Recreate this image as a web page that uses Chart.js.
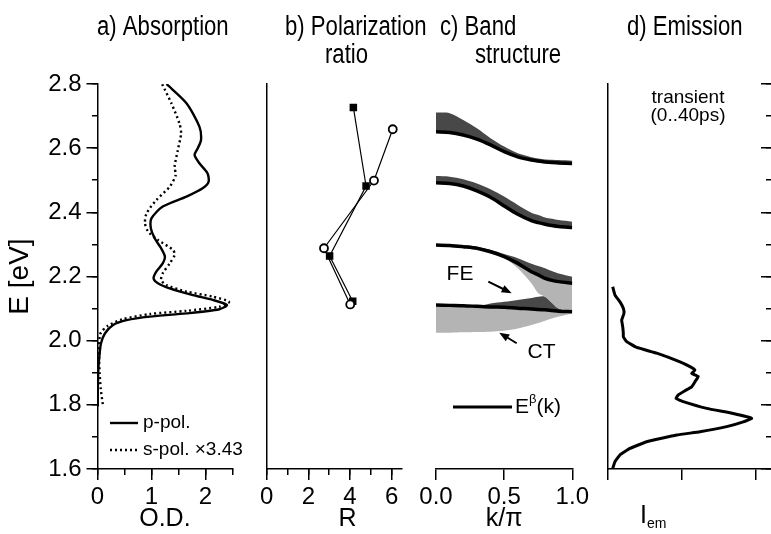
<!DOCTYPE html>
<html>
<head>
<meta charset="utf-8">
<script src="https://cdn.jsdelivr.net/npm/chart.js@4.4.1/dist/chart.umd.min.js"></script>
<style>
  html, body { margin: 0; padding: 0; background: #fff; }
  #fig { position: relative; width: 771px; height: 534px; overflow: hidden; }
  #fig canvas { position: absolute; left: 0; top: 0; }
</style>
</head>
<body>
<div id="fig">
  <canvas id="absorption" width="771" height="534"></canvas>
  <canvas id="ratio" width="771" height="534"></canvas>
  <canvas id="bands" width="771" height="534"></canvas>
  <canvas id="emission" width="771" height="534"></canvas>
</div>
<script>
// --- a) Absorption (O.D. vs E in eV) ---
const pPolOD = [1.28, 1.65, 1.89, 1.92, 1.86, 1.80, 1.89, 2.04, 2.06, 1.95, 1.65, 1.21, 1.00, 0.99, 1.06, 1.18, 1.25, 1.21, 1.09, 1.04,
                1.12, 1.34, 1.77, 2.14, 2.40, 2.26, 1.65, 0.97, 0.54, 0.29, 0.14, 0.065, 0.034, 0.015, 0.005, 0.005];
const pPolE  = [2.800, 2.740, 2.667, 2.625, 2.600, 2.579, 2.553, 2.522, 2.495, 2.475, 2.449, 2.418, 2.381, 2.350, 2.319, 2.288, 2.262, 2.241, 2.215, 2.194,
                2.179, 2.163, 2.142, 2.127, 2.111, 2.098, 2.085, 2.075, 2.064, 2.049, 2.023, 1.992, 1.950, 1.908, 1.836, 1.795];
const sPolOD = [1.20, 1.37, 1.52, 1.55, 1.49, 1.43, 1.45, 1.34, 1.09, 0.91, 0.88, 0.94, 1.12, 1.40, 1.43, 1.34, 1.21, 1.18, 1.28, 1.65,
                2.14, 2.44, 2.26, 1.65, 0.97, 0.45, 0.18, 0.05, 0.03, 0.04, 0.06, 0.10];
const sPolE  = [2.799, 2.740, 2.677, 2.646, 2.594, 2.542, 2.516, 2.480, 2.438, 2.397, 2.366, 2.340, 2.314, 2.283, 2.267, 2.241, 2.210, 2.189, 2.173, 2.153,
                2.137, 2.121, 2.106, 2.093, 2.083, 2.066, 2.045, 2.020, 1.950, 1.900, 1.850, 1.800];

// --- b) Polarization ratio ---
const squareR = [4.16, 4.77, 3.02, 4.13];
const squareE = [2.727, 2.482, 2.264, 2.123];
const circleR = [6.05, 5.15, 2.75, 4.01];
const circleE = [2.659, 2.499, 2.288, 2.113];

// --- c) Band structure (E vs k/pi) ---
const kGrid     = [0, 0.1, 0.2, 0.3, 0.4, 0.5, 0.6, 0.7, 0.75, 0.8, 0.85, 0.9, 1.0];
const band1Top  = [2.711, 2.709, 2.688, 2.662, 2.631, 2.605, 2.584, 2.572, 2.568, 2.565, 2.564, 2.563, 2.561];
const band1Edge = [2.651, 2.649, 2.641, 2.628, 2.610, 2.589, 2.573, 2.563, 2.560, 2.557, 2.555, 2.554, 2.552];
const band2Top  = [2.513, 2.511, 2.503, 2.490, 2.472, 2.449, 2.423, 2.399, 2.392, 2.384, 2.380, 2.376, 2.371];
const band2Edge = [2.492, 2.490, 2.482, 2.467, 2.447, 2.420, 2.394, 2.374, 2.368, 2.363, 2.359, 2.356, 2.353];
const band3Top  = [2.301, 2.300, 2.298, 2.293, 2.283, 2.270, 2.257, 2.240, 2.233, 2.226, 2.217, 2.209, 2.199];
const band3Edge = [2.298, 2.297, 2.293, 2.288, 2.277, 2.262, 2.241, 2.215, 2.205, 2.194, 2.188, 2.184, 2.179];
const feLow     = [2.298, 2.297, 2.293, 2.288, 2.274, 2.257, 2.226, 2.179, 2.148, 2.137, 2.118, 2.100, 2.090];
const band4Edge = [2.111, 2.110, 2.109, 2.107, 2.105, 2.104, 2.101, 2.099, 2.097, 2.096, 2.094, 2.092, 2.090];
const feTop     = [2.111, 2.110, 2.109, 2.107, 2.116, 2.121, 2.127, 2.133, 2.137, 2.137, 2.118, 2.100, 2.090];
const ctLow     = [2.025, 2.025, 2.026, 2.027, 2.028, 2.031, 2.038, 2.049, 2.055, 2.062, 2.069, 2.075, 2.085];

// --- d) Emission, transient (0..40ps) ---
const emI = [0.073, 0.104, 0.171, 0.216, 0.225, 0.194, 0.208, 0.216, 0.216, 0.261, 0.396, 0.666, 0.980, 1.115, 1.182, 1.137, 1.226, 1.182,
             1.137, 1.047, 0.957, 0.926, 1.024, 1.340, 1.698, 1.946, 1.833, 1.609, 1.249, 0.935, 0.531, 0.306, 0.171, 0.104, 0.073];
const emE = [2.168, 2.142, 2.121, 2.101, 2.085, 2.064, 2.043, 2.023, 2.012, 1.997, 1.979, 1.961, 1.934, 1.919, 1.908, 1.898, 1.888, 1.872,
             1.856, 1.844, 1.831, 1.820, 1.810, 1.789, 1.773, 1.758, 1.747, 1.732, 1.716, 1.706, 1.685, 1.664, 1.644, 1.623, 1.602];

// --- labels ---
const panelTitles = [['a) Absorption'], ['b) Polarization', 'ratio'], ['c) Band', 'structure'], ['d) Emission']];
const legendLabels = ['p-pol.', 's-pol. \u00d73.43'];
const E_MIN = 1.6, E_MAX = 2.8;

// --- common setup ---
const FONT = '"Liberation Sans", Arial, Helvetica, sans-serif';
Chart.defaults.font.family = FONT;
Chart.defaults.color = '#000';
const AXIS_W = 1.5;
const W = 771, TOP = 84;
const DOTS = [2, 3];
const TICK_FONT = 24;

const pts = (xs, ys) => xs.map((x, i) => ({ x, y: ys[i] }));
const band = ys => kGrid.map((k, i) => ({ x: k, y: ys[i] }));

// text, arrows and legend samples drawn on top of a chart
const annotate = {
  id: 'annotate',
  afterDraw(chart, args, opts) {
    const { ctx, scales } = chart;
    const toPx = p => p.data
      ? [scales.x.getPixelForValue(p.data[0]), scales.y.getPixelForValue(p.data[1])]
      : p.at;
    ctx.save();
    ctx.fillStyle = '#000';
    ctx.strokeStyle = '#000';
    (opts.lines || []).forEach(l => {
      const [x1, y1] = toPx(l.from), [x2, y2] = toPx(l.to);
      const a = Math.atan2(y2 - y1, x2 - x1);
      const back = l.head ? 6 : 0;
      ctx.lineWidth = l.width || 2;
      ctx.setLineDash(l.dash || []);
      ctx.beginPath();
      ctx.moveTo(x1, y1);
      ctx.lineTo(x2 - back * Math.cos(a), y2 - back * Math.sin(a));
      ctx.stroke();
      ctx.setLineDash([]);
      if (l.head) {
        const hl = 10, hw = 4;
        ctx.beginPath();
        ctx.moveTo(x2, y2);
        ctx.lineTo(x2 - hl * Math.cos(a) + hw * Math.sin(a), y2 - hl * Math.sin(a) - hw * Math.cos(a));
        ctx.lineTo(x2 - hl * Math.cos(a) - hw * Math.sin(a), y2 - hl * Math.sin(a) + hw * Math.cos(a));
        ctx.closePath();
        ctx.fill();
      }
    });
    (opts.texts || []).forEach(t => {
      const [x, y] = toPx(t);
      const sx = t.sx || 1;
      const parts = t.parts || [{ s: t.text, size: t.size }];
      ctx.textBaseline = 'middle';
      ctx.textAlign = 'left';
      const widths = parts.map(p => { ctx.font = p.size + 'px ' + FONT; return ctx.measureText(p.s).width * sx; });
      const total = widths.reduce((a, b) => a + b, 0);
      let cx = t.align === 'center' ? x - total / 2 : x;
      parts.forEach((p, i) => {
        ctx.font = p.size + 'px ' + FONT;
        ctx.save();
        ctx.translate(cx, y + (p.dy || 0));
        ctx.scale(sx, 1);
        ctx.fillText(p.s, 0, 0);
        ctx.restore();
        cx += widths[i];
      });
    });
    ctx.restore();
  }
};

function titleTexts(lines, x, indent) {
  return lines.map((s, i) => ({ at: [x + (i ? indent : 0), 28 + i * 28], text: s, size: 27, sx: 0.82 }));
}

function majorX(min, max, step, o = {}) {
  return {
    type: 'linear', position: 'bottom', min, max,
    afterFit: s => { s.height = 65; },
    border: { color: '#000', width: AXIS_W },
    grid: { drawOnChartArea: false, tickLength: 11, lineWidth: AXIS_W, tickColor: '#000' },
    ticks: {
      stepSize: step, includeBounds: false, autoSkip: false, maxRotation: 0, padding: 3,
      font: { size: TICK_FONT }, color: '#000', display: o.labels !== false,
      callback: o.fmt || (v => v)
    },
    title: o.title
      ? { display: true, text: o.title, font: { size: 25 }, padding: 0, color: '#000' }
      : { display: false }
  };
}

function minorTicks(axis, at, min, max, step, len) {
  return {
    type: 'linear', axis, position: at, min, max,
    border: { display: false },
    grid: { drawOnChartArea: false, tickLength: len, lineWidth: AXIS_W, tickColor: '#000' },
    ticks: { stepSize: step, display: false, includeBounds: false }
  };
}

function spineY(show) {
  return {
    type: 'linear', position: 'left', min: E_MIN, max: E_MAX, display: show,
    afterFit: s => { s.width = 0; },
    border: { display: show, color: '#000', width: AXIS_W },
    grid: { drawOnChartArea: false, drawTicks: false },
    ticks: { display: false }
  };
}

const baseOptions = (pad) => ({
  responsive: false,
  animation: false,
  devicePixelRatio: 1,
  events: [],
  layout: { padding: { left: pad[0], right: W - pad[1], top: TOP, bottom: 0 } }
});

// --- a) Absorption ---
new Chart(document.getElementById('absorption'), {
  type: 'line',
  data: {
    datasets: [
      { label: legendLabels[0], data: pts(pPolOD, pPolE), borderColor: '#000', borderWidth: 2.4, pointRadius: 0, tension: 0.25 },
      { label: legendLabels[1], data: pts(sPolOD, sPolE), borderColor: '#000', borderWidth: 2.4, borderDash: DOTS, pointRadius: 0, tension: 0.25 }
    ]
  },
  options: {
    ...baseOptions([0, 232.3]),
    scales: {
      x: majorX(0, 2.5, 1, { title: 'O.D.' }),
      xm: minorTicks('x', { y: E_MIN }, 0, 2.5, 0.5, 6),
      y: {
        type: 'linear', position: 'left', min: E_MIN, max: E_MAX,
        afterFit: s => { s.width = 97.5; },
        border: { color: '#000', width: AXIS_W },
        grid: { drawOnChartArea: false, tickLength: 11, lineWidth: AXIS_W, tickColor: '#000' },
        ticks: { stepSize: 0.2, padding: 5, font: { size: TICK_FONT }, color: '#000', callback: v => v.toFixed(1) },
        title: { display: true, text: 'E [eV]', font: { size: 28 }, padding: { top: 3, bottom: 0 }, color: '#000' }
      },
      ym: minorTicks('y', { x: 0 }, E_MIN, E_MAX, 0.1, 6)
    },
    plugins: {
      tooltip: { enabled: false },
      legend: { display: false },
      annotate: {
        texts: [
          ...titleTexts(panelTitles[0], 97, 0),
          { at: [143, 423], text: legendLabels[0], size: 19 },
          { at: [143, 450], text: legendLabels[1], size: 19 }
        ],
        lines: [
          { from: { at: [110, 423] }, to: { at: [138, 423] }, width: 2.4 },
          { from: { at: [110, 450] }, to: { at: [138, 450] }, width: 2.4, dash: DOTS }
        ]
      }
    }
  },
  plugins: [annotate]
});

// --- b) Polarization ratio ---
new Chart(document.getElementById('ratio'), {
  type: 'line',
  data: {
    datasets: [
      { label: 'circles', data: pts(circleR, circleE), borderColor: '#000', borderWidth: 1.2, tension: 0,
        pointStyle: 'circle', pointRadius: 4, pointBackgroundColor: '#fff', pointBorderColor: '#000', pointBorderWidth: 1.8 },
      { label: 'squares', data: pts(squareR, squareE), borderColor: '#000', borderWidth: 1.2, tension: 0,
        pointStyle: 'rect', pointRadius: 5.3, pointBackgroundColor: '#000', pointBorderColor: '#000', pointBorderWidth: 0 }
    ]
  },
  options: {
    ...baseOptions([266.7, 402.1]),
    scales: {
      x: majorX(0, 6.5, 2),
      xm: minorTicks('x', { y: E_MIN }, 0, 6.5, 1, 6),
      y: spineY(true)
    },
    plugins: {
      tooltip: { enabled: false },
      legend: { display: false },
      annotate: { texts: [...titleTexts(panelTitles[1], 285, 40), { at: [347.5, 519.6], text: 'R', size: 25, align: 'center' }] }
    }
  },
  plugins: [annotate]
});

// --- c) Band structure ---
const DARK = '#484848', LIGHT = '#b4b4b4';
const edge = (ys) => ({ data: band(ys), borderColor: '#000', borderWidth: 3.5, pointRadius: 0, tension: 0.3, fill: false, order: 0 });
const area = (ys, target, color) => ({ data: band(ys), borderWidth: 0, borderColor: 'rgba(0,0,0,0)', backgroundColor: color,
  pointRadius: 0, tension: 0.3, fill: target, order: 1 });
new Chart(document.getElementById('bands'), {
  type: 'line',
  data: {
    datasets: [
      edge(band1Edge),                 // 0
      area(band1Top, '-1', DARK),      // 1
      edge(band2Edge),                 // 2
      area(band2Top, '-1', DARK),      // 3
      edge(band3Edge),                 // 4
      area(band3Top, '-1', DARK),      // 5
      area(feLow, '-2', LIGHT),        // 6
      edge(band4Edge),                 // 7
      area(feTop, '-1', DARK),         // 8
      area(ctLow, '-2', LIGHT)         // 9
    ]
  },
  options: {
    ...baseOptions([436, 572.3]),
    scales: {
      x: majorX(0, 1, 0.5, { title: 'k/\u03c0', fmt: v => v.toFixed(1) }),
      y: spineY(false)
    },
    plugins: {
      tooltip: { enabled: false },
      legend: { display: false },
      annotate: {
        texts: [
          ...titleTexts(panelTitles[2], 440, 35),
          { data: [0.176, 2.206], text: 'FE', size: 21, align: 'center' },
          { data: [0.774, 1.963], text: 'CT', size: 21, align: 'center' },
          { at: [515, 407], parts: [{ s: 'E', size: 21 }, { s: '\u03b2', size: 13, dy: -8 }, { s: '(k)', size: 21 }] }
        ],
        lines: [
          { from: { data: [0.384, 2.184] }, to: { data: [0.555, 2.148] }, head: true },
          { from: { data: [0.592, 1.992] }, to: { data: [0.464, 2.025] }, head: true },
          { from: { at: [453, 407] }, to: { at: [512, 407] }, width: 3 }
        ]
      }
    }
  },
  plugins: [annotate]
});

// --- d) Emission ---
new Chart(document.getElementById('emission'), {
  type: 'line',
  data: {
    datasets: [
      { label: 'transient', data: pts(emI, emE), borderColor: '#000', borderWidth: 3, pointRadius: 0, tension: 0.1 }
    ]
  },
  options: {
    ...baseOptions([607.3, 770.5]),
    scales: {
      x: majorX(0, 2.2, 1, { labels: false }),
      y: spineY(true),
      yr: minorTicks('y', { x: 2.2 }, E_MIN, E_MAX, 0.2, 10),
      yrm: minorTicks('y', { x: 2.2 }, E_MIN, E_MAX, 0.1, 5)
    },
    plugins: {
      tooltip: { enabled: false },
      legend: { display: false },
      annotate: {
        texts: [
          ...titleTexts(panelTitles[3], 627, 0),
          { at: [688, 97.5], text: 'transient', size: 19, align: 'center' },
          { at: [688, 115.5], text: '(0..40ps)', size: 19, align: 'center' },
          { at: [640, 516], parts: [{ s: 'I', size: 25 }, { s: 'em', size: 14, dy: 8 }] }
        ]
      }
    }
  },
  plugins: [annotate]
});
</script>
</body>
</html>
